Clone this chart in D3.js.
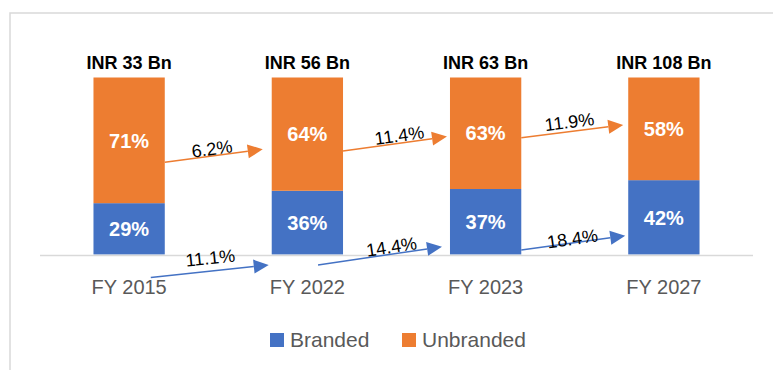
<!DOCTYPE html>
<html>
<head>
<meta charset="utf-8">
<script src="https://cdn.jsdelivr.net/npm/d3@7"></script>
<style>
  html, body { margin: 0; padding: 0; background: #fff; }
  svg { display: block; font-family: "Liberation Sans", Arial, sans-serif; }
</style>
</head>
<body>
<svg id="chart" width="773" height="370"></svg>
<script>
// Market split by year
const years = ["FY 2015", "FY 2022", "FY 2023", "FY 2027"];
const marketSize = ["INR 33 Bn", "INR 56 Bn", "INR 63 Bn", "INR 108 Bn"];
const branded = [29, 36, 37, 42];
const unbranded = [71, 64, 63, 58];
// Growth (CAGR %) between consecutive years
const brandedGrowth = [11.1, 14.4, 18.4];
const unbrandedGrowth = [6.2, 11.4, 11.9];
const seriesNames = ["Branded", "Unbranded"];

const colors = { Branded: "#4472C4", Unbranded: "#ED7D31" };

const svg = d3.select("#chart");

// outer frame (top and left edges visible)
svg.append("rect")
  .attr("x", 10).attr("y", 13)
  .attr("width", 800).attr("height", 400)
  .attr("fill", "none").attr("stroke", "#d9d9d9").attr("stroke-width", 1.5);

const x = d3.scaleBand().domain(years).range([40, 753])
  .paddingInner(0.6).paddingOuter(0.3);
const y = d3.scaleLinear().domain([0, 100]).range([254.5, 77.5]);

const rows = years.map((yr, i) => ({ year: yr, Branded: branded[i], Unbranded: unbranded[i] }));
const stacked = d3.stack().keys(seriesNames)(rows);

// bars
const layers = svg.append("g").selectAll("g").data(stacked).join("g")
  .attr("fill", d => colors[d.key]);
layers.selectAll("rect").data(d => d).join("rect")
  .attr("x", d => x(d.data.year))
  .attr("width", x.bandwidth())
  .attr("y", d => y(d[1]))
  .attr("height", d => y(d[0]) - y(d[1]));

// value labels inside segments
layers.selectAll("text").data(d => d.map(s => ({ s, key: d.key }))).join("text")
  .attr("x", d => x(d.s.data.year) + x.bandwidth() / 2)
  .attr("y", d => (y(d.s[0]) + y(d.s[1])) / 2)
  .attr("dy", "0.36em")
  .attr("text-anchor", "middle")
  .attr("fill", "#fff")
  .attr("font-weight", "bold")
  .attr("font-size", 20)
  .text(d => d.s.data[d.key] + "%");

// totals above bars
svg.append("g").selectAll("text").data(years).join("text")
  .attr("x", d => x(d) + x.bandwidth() / 2)
  .attr("y", 68.5)
  .attr("text-anchor", "middle")
  .attr("font-weight", "bold")
  .attr("font-size", 18)
  .attr("fill", "#000")
  .text((d, i) => marketSize[i]);

// baseline axis
const axis = svg.append("g").attr("transform", `translate(0,${y(0) + 1})`)
  .call(d3.axisBottom(x).tickSize(0).tickPadding(0));
axis.select(".domain").attr("stroke", "#d9d9d9").attr("stroke-width", 1.5)
  .attr("d", "M40,0H753");
axis.selectAll("text")
  .attr("font-family", "Liberation Sans, Arial, sans-serif")
  .attr("font-size", 20)
  .attr("fill", "#595959")
  .attr("dy", null)
  .attr("y", 38);

// growth arrows between bars
const arrowLayout = {
  Unbranded: { y0: [52.1, 58.5, 66.0], y1: [59.4, 66.6, 73.2], dx0: [0, 0, 0], dx1: [9, 3, 5], t: [0.49, 0.55, 0.48], lift: [1, 1.5, 3.5] },
  Branded:   { y0: [-13.0, -5.9, 2.5], y1: [-5.9, 4.4, 10.6], dx0: [14, 25, 0], dx1: [3, 8, 3], t: [0.51, 0.6, 0.5], lift: [7, 1, -2] }
};
const growth = { Branded: brandedGrowth, Unbranded: unbrandedGrowth };

const arrows = [];
seriesNames.forEach(key => {
  growth[key].forEach((v, i) => {
    const L = arrowLayout[key];
    const x0 = x(years[i]) + x.bandwidth() - L.dx0[i];
    const x1 = x(years[i + 1]) - L.dx1[i];
    arrows.push({ key, v, x0, y0: y(L.y0[i]), x1, y1: y(L.y1[i]), t: L.t[i], lift: L.lift[i] });
  });
});

const ag = svg.append("g").selectAll("g").data(arrows).join("g");
const headLen = 15, headHalf = 7;
ag.each(function(d) {
  const g = d3.select(this);
  const ang = Math.atan2(d.y1 - d.y0, d.x1 - d.x0);
  const ux = Math.cos(ang), uy = Math.sin(ang);
  const bx = d.x1 - ux * headLen, by = d.y1 - uy * headLen;
  g.append("line")
    .attr("x1", d.x0).attr("y1", d.y0).attr("x2", bx).attr("y2", by)
    .attr("stroke", colors[d.key]).attr("stroke-width", 1.5);
  g.append("path")
    .attr("d", `M${d.x1},${d.y1}L${bx - uy * headHalf},${by + ux * headHalf}L${bx + uy * headHalf},${by - ux * headHalf}Z`)
    .attr("fill", colors[d.key]);
  const lx = d.x0 + (d.x1 - d.x0) * d.t;
  const ly = d.y0 + (d.y1 - d.y0) * d.t - d.lift;
  g.append("text")
    .attr("transform", `translate(${lx},${ly}) rotate(${ang * 180 / Math.PI})`)
    .attr("text-anchor", "middle")
    .attr("font-size", 18)
    .attr("fill", "#000")
    .text(d.v.toFixed(1) + "%");
});

// legend
const legend = svg.append("g");
const legendX = [270, 402];
seriesNames.forEach((name, i) => {
  legend.append("rect")
    .attr("x", legendX[i]).attr("y", 333)
    .attr("width", 14).attr("height", 14)
    .attr("fill", colors[name]);
  legend.append("text")
    .attr("x", legendX[i] + 20).attr("y", 347)
    .attr("font-size", 21)
    .attr("fill", "#595959")
    .text(name);
});
</script>
</body>
</html>
